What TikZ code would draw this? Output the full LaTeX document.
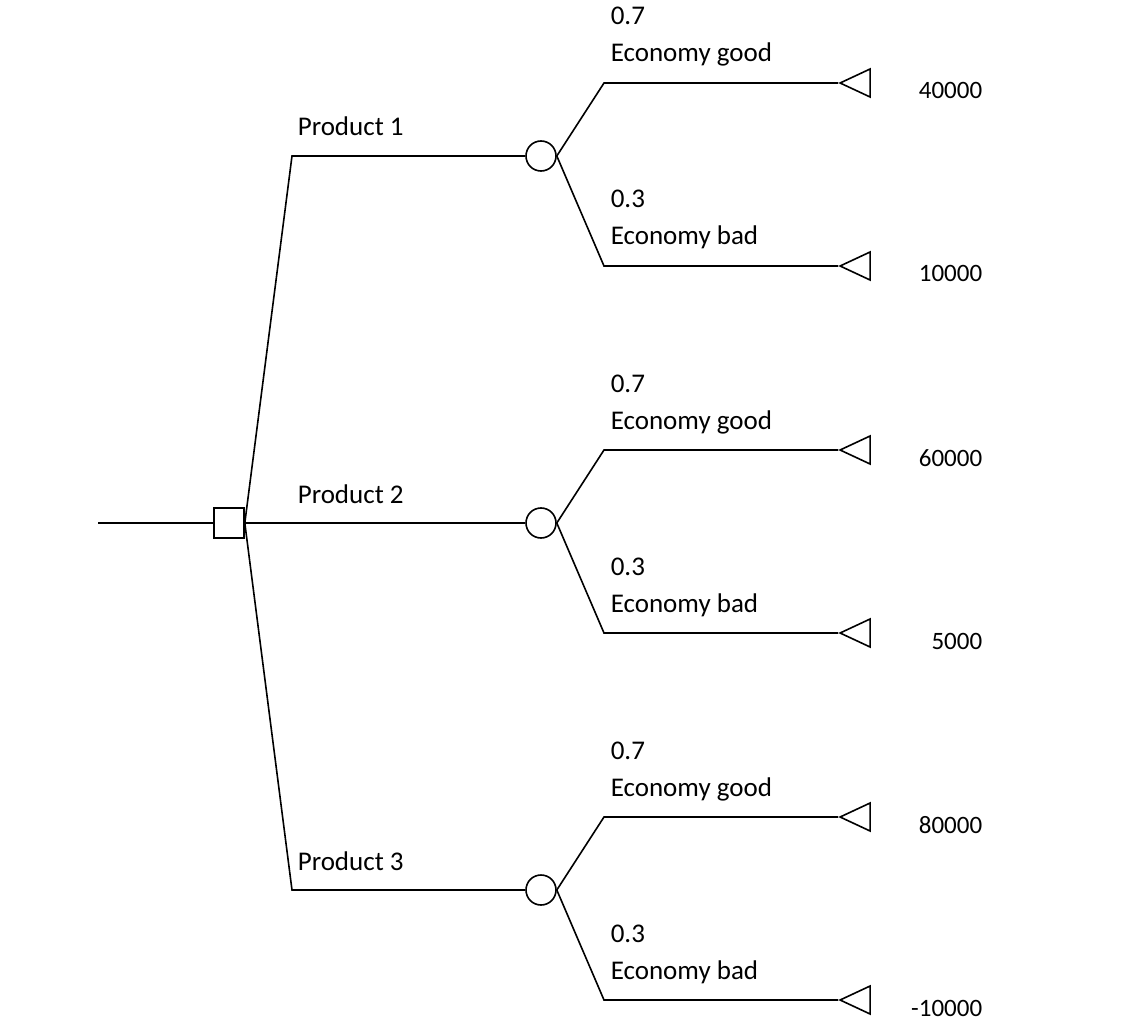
\documentclass[tikz,border=0pt]{standalone}
\usepackage{fontspec}
\setmainfont{Carlito}
\usetikzlibrary{shapes.geometric}
\begin{document}
\begin{tikzpicture}[x=1pt,y=-1pt, line width=1.6pt,
  every node/.style={font=\fontsize{27}{32}\selectfont, inner sep=0pt},
  decision/.style={draw, rectangle, minimum size=30pt, fill=white},
  chance/.style={draw, circle, minimum size=30pt},
  payoff/.style={draw, isosceles triangle, isosceles triangle stretches, shape border rotate=180, minimum width=28pt, minimum height=30pt, anchor=apex},
  lbl/.style={anchor=base west},
  val/.style={anchor=base east, font=\fontsize{25}{30}\selectfont}]
\useasboundingbox (0,0) rectangle (1122,1032);
\coordinate (start) at (98,523);
\node[decision] (d) at (229,523) {};
\draw (start) -- (d.west);
\foreach \i/\y/\g/\b in {1/156/40000/10000, 2/523/60000/5000, 3/890/80000/-10000} {
  \coordinate (p\i) at (292,\y);
  \node[chance] (c\i) at (541,\y) {};
  \draw (d.east) -- (p\i) -- (c\i.west);
  \node[lbl] (prod\i) at (297,\y-20) {Product \i};
  \coordinate (u\i) at (604,\y-73);
  \coordinate (l\i) at (604,\y+110);
  \node[payoff] (tu\i) at (838,\y-73) {};
  \node[payoff] (tl\i) at (838,\y+110) {};
  \draw (c\i.east) -- (u\i) -- (tu\i.apex);
  \draw (c\i.east) -- (l\i) -- (tl\i.apex);
  \node[lbl] (pu\i) at (610,\y-73-58) {0.7};
  \node[lbl] (eu\i) at (610,\y-73-21) {Economy good};
  \node[lbl] (pl\i) at (610,\y+110-58) {0.3};
  \node[lbl] (el\i) at (610,\y+110-21) {Economy bad};
  \node[val] (vu\i) at (983,\y-73+16) {\g};
  \node[val] (vl\i) at (983,\y+110+16) {\b};
}
\end{tikzpicture}
\end{document}
